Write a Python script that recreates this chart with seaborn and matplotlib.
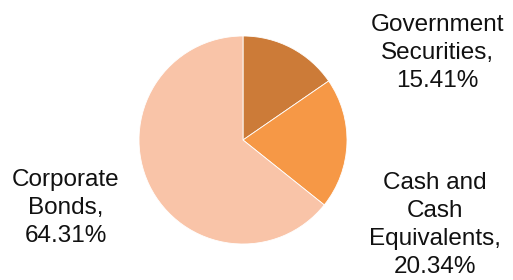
import seaborn as sns
from matplotlib import pyplot as plt

sns.set_theme(style='white')
plt.rcParams['font.family'] = ['Liberation Sans', 'DejaVu Sans']

categories = ['Government\nSecurities,', 'Cash and\nCash\nEquivalents,', 'Corporate\nBonds,']
values = [15.41, 20.34, 64.31]
colors = ['#CC7B38', '#F69846', '#F9C4A8']

fig = plt.figure(figsize=(5.13, 2.80), dpi=100)
W, H = 513, 280
cx, cy, r = 243, 140, 104
ax = fig.add_axes([(cx - r) / W, (H - cy - r) / H, 2 * r / W, 2 * r / H])

ax.pie(values, colors=colors, startangle=90, counterclock=False, radius=1,
       wedgeprops=dict(linewidth=0.6, edgecolor='white'))
ax.set_xlim(-1, 1)
ax.set_ylim(-1, 1)
ax.set_aspect('equal')
ax.axis('off')

label_pos = [(437, 53), (435, 225), (66, 208)]
for cat, val, (x, y) in zip(categories, values, label_pos):
    fig.text(x / W, 1 - y / H, f"{cat}\n{val:.2f}%", ha='center', va='center',
             fontsize=17.5, linespacing=1.36, color='#111111')

fig.savefig('out.png', dpi=100, facecolor='white')
